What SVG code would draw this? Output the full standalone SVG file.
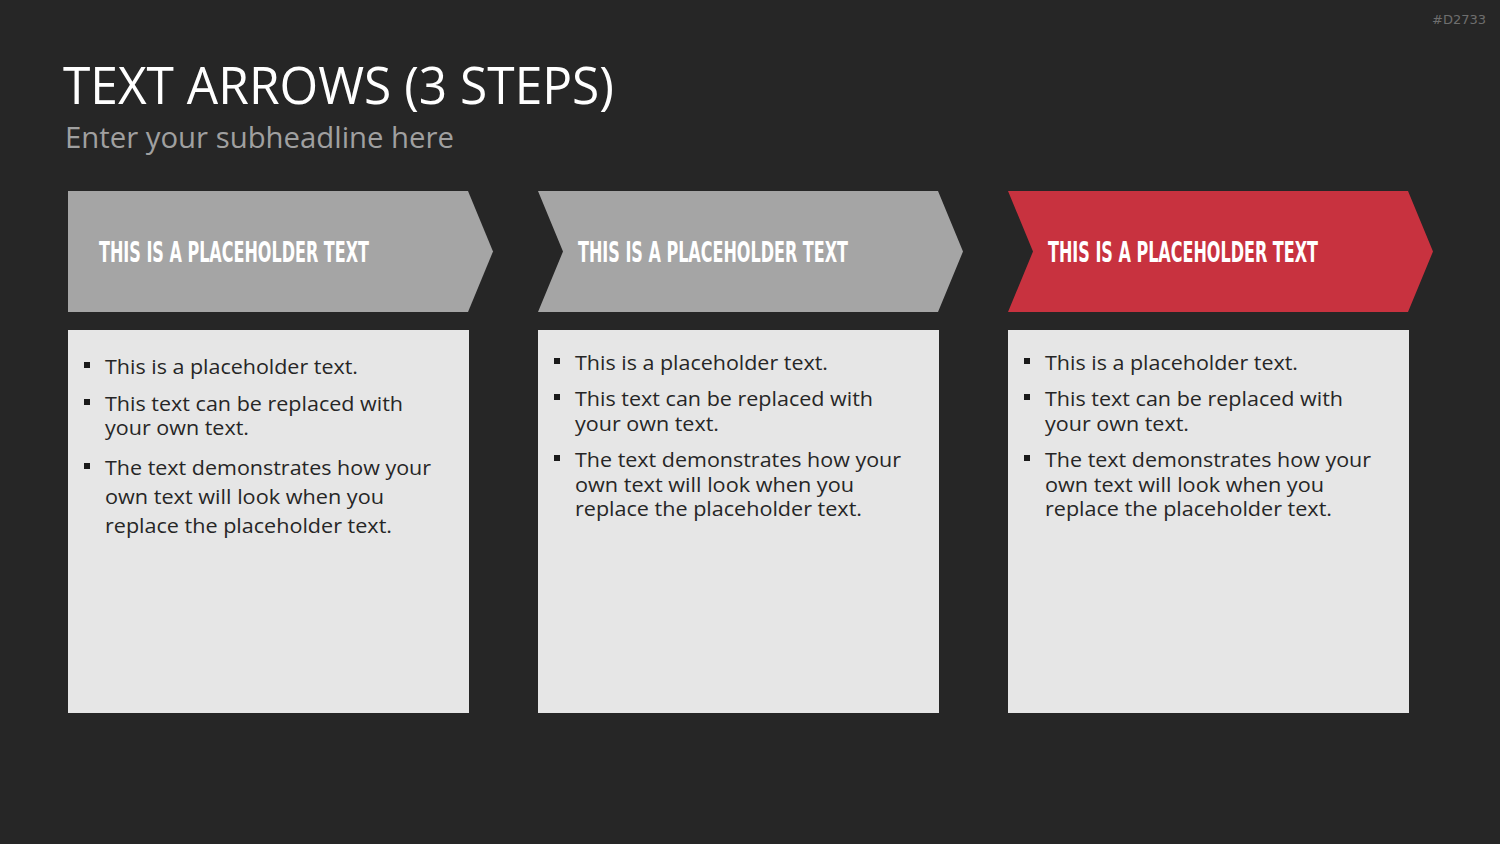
<svg xmlns="http://www.w3.org/2000/svg" width="1500" height="844" viewBox="0 0 1500 844">
<style>
.bg{fill:#262626}
.gray{fill:#a5a5a5}
.red{fill:#c8323f}
.box{fill:#e6e6e6}
.title{font-family:"Open Sans","Liberation Sans",sans-serif;font-size:52px;fill:#ffffff}
.sub{font-family:"Open Sans","Liberation Sans",sans-serif;font-size:30px;fill:#a0a0a0}
.head{font-family:"DejaVu Sans Condensed","Liberation Sans Narrow","Liberation Sans",sans-serif;font-weight:bold;font-size:29px;fill:#ffffff}
.body{font-family:"Open Sans","Liberation Sans",sans-serif;font-size:20px;fill:#262626}
.tag{font-family:"DejaVu Sans","Liberation Sans",sans-serif;font-size:13px;fill:#6e6e6e}
.bul{fill:#1a1a1a}
</style>
<rect class="bg" x="0" y="0" width="1500" height="844"/>
<text class="tag" x="1486" y="24" text-anchor="end">#D2733</text>
<text class="title" x="63" y="104" textLength="551" lengthAdjust="spacingAndGlyphs">TEXT ARROWS (3 STEPS)</text>
<text class="sub" x="65" y="148" textLength="389" lengthAdjust="spacingAndGlyphs">Enter your subheadline here</text>

<g id="step1">
<polygon class="gray" points="68,191 468,191 493,251.5 468,312 68,312"/>
<text class="head" x="99" y="262" textLength="270" lengthAdjust="spacingAndGlyphs">THIS IS A PLACEHOLDER TEXT</text>
<rect class="box" x="68" y="330" width="401" height="383"/>
<rect class="bul" x="84" y="362" width="6" height="6"/>
<text class="body" x="105" y="374" textLength="253" lengthAdjust="spacingAndGlyphs">This is a placeholder text.</text>
<rect class="bul" x="84" y="399" width="6" height="6"/>
<text class="body" x="105" y="411" textLength="298" lengthAdjust="spacingAndGlyphs">This text can be replaced with</text>
<text class="body" x="105" y="435" textLength="144" lengthAdjust="spacingAndGlyphs">your own text.</text>
<rect class="bul" x="84" y="463" width="6" height="6"/>
<text class="body" x="105" y="475" textLength="326" lengthAdjust="spacingAndGlyphs">The text demonstrates how your</text>
<text class="body" x="105" y="504" textLength="279" lengthAdjust="spacingAndGlyphs">own text will look when you</text>
<text class="body" x="105" y="533" textLength="287" lengthAdjust="spacingAndGlyphs">replace the placeholder text.</text>
</g>

<g id="step2">
<polygon class="gray" points="538,191 938,191 963,251.5 938,312 538,312 563,251.5"/>
<text class="head" x="578" y="262" textLength="270" lengthAdjust="spacingAndGlyphs">THIS IS A PLACEHOLDER TEXT</text>
<rect class="box" x="538" y="330" width="401" height="383"/>
<rect class="bul" x="554" y="358" width="6" height="6"/>
<text class="body" x="575" y="370" textLength="253" lengthAdjust="spacingAndGlyphs">This is a placeholder text.</text>
<rect class="bul" x="554" y="394" width="6" height="6"/>
<text class="body" x="575" y="406" textLength="298" lengthAdjust="spacingAndGlyphs">This text can be replaced with</text>
<text class="body" x="575" y="431" textLength="144" lengthAdjust="spacingAndGlyphs">your own text.</text>
<rect class="bul" x="554" y="455" width="6" height="6"/>
<text class="body" x="575" y="467" textLength="326" lengthAdjust="spacingAndGlyphs">The text demonstrates how your</text>
<text class="body" x="575" y="492" textLength="279" lengthAdjust="spacingAndGlyphs">own text will look when you</text>
<text class="body" x="575" y="516" textLength="287" lengthAdjust="spacingAndGlyphs">replace the placeholder text.</text>
</g>

<g id="step3">
<polygon class="red" points="1008,191 1408,191 1433,251.5 1408,312 1008,312 1033,251.5"/>
<text class="head" x="1048" y="262" textLength="270" lengthAdjust="spacingAndGlyphs">THIS IS A PLACEHOLDER TEXT</text>
<rect class="box" x="1008" y="330" width="401" height="383"/>
<rect class="bul" x="1024" y="358" width="6" height="6"/>
<text class="body" x="1045" y="370" textLength="253" lengthAdjust="spacingAndGlyphs">This is a placeholder text.</text>
<rect class="bul" x="1024" y="394" width="6" height="6"/>
<text class="body" x="1045" y="406" textLength="298" lengthAdjust="spacingAndGlyphs">This text can be replaced with</text>
<text class="body" x="1045" y="431" textLength="144" lengthAdjust="spacingAndGlyphs">your own text.</text>
<rect class="bul" x="1024" y="455" width="6" height="6"/>
<text class="body" x="1045" y="467" textLength="326" lengthAdjust="spacingAndGlyphs">The text demonstrates how your</text>
<text class="body" x="1045" y="492" textLength="279" lengthAdjust="spacingAndGlyphs">own text will look when you</text>
<text class="body" x="1045" y="516" textLength="287" lengthAdjust="spacingAndGlyphs">replace the placeholder text.</text>
</g>

<g id="connectors"></g>
</svg>
